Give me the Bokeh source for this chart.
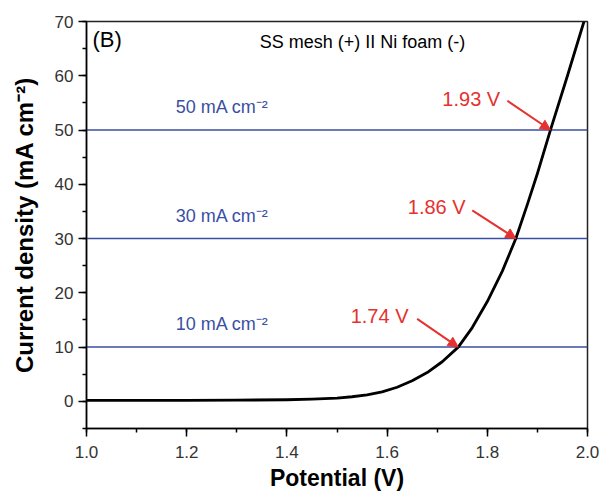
from bokeh.plotting import figure
from bokeh.models import Range1d, Arrow, NormalHead, Label, SingleIntervalTicker, CustomJSTickFormatter
from bokeh.core.properties import value
from bokeh.embed import file_html
from bokeh.resources import INLINE

# LSV curve (Potential V, current density mA cm^-2)
potential = [1.0, 1.1, 1.2, 1.3, 1.4, 1.45, 1.5, 1.53, 1.56, 1.59, 1.62, 1.65, 1.68, 1.71,
             1.742, 1.77, 1.80, 1.83, 1.857, 1.88, 1.90, 1.926, 1.96, 1.993]
current = [0.2, 0.2, 0.2, 0.22, 0.3, 0.4, 0.6, 0.85, 1.2, 1.75, 2.6, 3.8, 5.3, 7.3,
           10.0, 13.6, 18.4, 24.0, 30.0, 36.3, 42.0, 50.0, 60.0, 70.0]

# reference current densities
ref_levels = [10, 30, 50]
ref_labels = ["10 mA cm\u207b\u00b2", "30 mA cm\u207b\u00b2", "50 mA cm\u207b\u00b2"]
ref_label_x = [1.178, 1.178, 1.178]
ref_label_y = [14.2, 34.2, 54.2]

# cell voltages needed
volt_labels = ["1.74 V", "1.86 V", "1.93 V"]
volt_label_x = [1.585, 1.699, 1.768]
volt_label_y = [15.7, 35.8, 55.8]
arrow_start_x = [1.660, 1.770, 1.840]
arrow_start_y = [15.2, 35.2, 55.4]
arrow_end_x = [1.742, 1.857, 1.926]
arrow_end_y = [10, 30, 50]

title_text = "SS mesh (+) II Ni foam (-)"
panel_text = "(B)"

FONT = "Liberation Sans"
BLUE = "#3a4fa3"
RED = "#e5312f"

p = figure(width=601, height=495, output_backend="svg", toolbar_location=None,
           x_range=Range1d(1.0, 2.0), y_range=Range1d(-5, 70),
           min_border_left=86, min_border_right=14, min_border_top=21, min_border_bottom=67)
p.grid.visible = False
p.outline_line_color = "#222222"
p.outline_line_width = 1.5
p.background_fill_color = "white"
p.border_fill_color = "white"

p.xaxis.ticker = SingleIntervalTicker(interval=0.2, num_minor_ticks=2)
p.yaxis.ticker = SingleIntervalTicker(interval=10, num_minor_ticks=2)
p.xaxis.formatter = CustomJSTickFormatter(code="return tick.toFixed(1);")
p.xaxis.axis_label = "Potential (V)"
p.yaxis.axis_label = "Current density (mA cm\u207b\u00b2)"
for ax in (p.xaxis, p.yaxis):
    ax.axis_label_text_font = FONT
    ax.axis_label_text_font_style = "bold"
    ax.axis_label_text_color = "black"
    ax.major_label_text_font = FONT
    ax.major_label_text_font_size = "17px"
    ax.major_label_text_color = "#333333"
    ax.axis_line_color = "black"
    ax.axis_line_width = 1.5
    ax.major_tick_line_color = "black"
    ax.major_tick_line_width = 1.5
    ax.minor_tick_line_color = "black"
    ax.minor_tick_line_width = 1.5
    ax.major_tick_out = 8
    ax.major_tick_in = 0
    ax.minor_tick_out = 4
    ax.minor_tick_in = 0
p.xaxis.axis_label_text_font_size = "23px"
p.yaxis.axis_label_text_font_size = "24px"
p.xaxis.major_label_standoff = 9
p.yaxis.major_label_standoff = 5
p.xaxis.axis_label_standoff = 4
p.yaxis.axis_label_standoff = 14

# horizontal reference lines
for lvl in ref_levels:
    p.line([1.0, 2.0], [lvl, lvl], line_color=BLUE, line_width=1.5)

# curve
p.line(potential, current, line_color="black", line_width=2.8, line_join="round")

# blue labels
p.text(x=ref_label_x, y=ref_label_y, text=ref_labels, text_color=BLUE,
       text_font=value(FONT), text_font_size="18px", text_baseline="middle", text_align="left")

# red labels and arrows
p.text(x=volt_label_x, y=volt_label_y, text=volt_labels, text_color=RED,
       text_font=value(FONT), text_font_size="20px", text_baseline="middle", text_align="center")
for xs, ys, xe, ye in zip(arrow_start_x, arrow_start_y, arrow_end_x, arrow_end_y):
    p.add_layout(Arrow(end=NormalHead(size=10, fill_color=RED, line_color=RED),
                       x_start=xs, y_start=ys, x_end=xe, y_end=ye,
                       line_color=RED, line_width=2))

p.add_layout(Label(x=1.012, y=66.6, text=panel_text, text_font=FONT, text_font_size="22px",
                   text_baseline="middle", text_color="black"))
p.add_layout(Label(x=1.551, y=66.3, text=title_text, text_font=FONT, text_font_size="18px",
                   text_baseline="middle", text_align="center", text_color="black"))

open("out.html", "w").write(file_html(p, INLINE))
